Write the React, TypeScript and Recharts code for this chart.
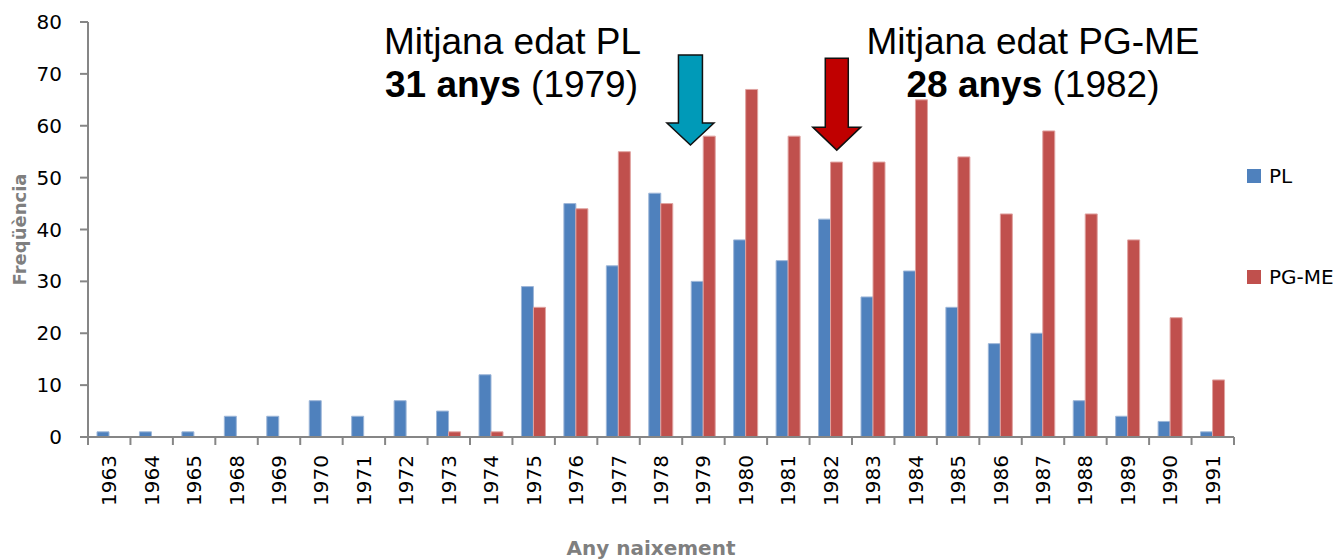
import {
  Bar,
  BarChart,
  Legend,
  ReferenceDot,
  XAxis,
  YAxis,
} from "recharts";

const years = [
  "1963", "1964", "1965", "1968", "1969", "1970", "1971", "1972", "1973",
  "1974", "1975", "1976", "1977", "1978", "1979", "1980", "1981", "1982",
  "1983", "1984", "1985", "1986", "1987", "1988", "1989", "1990", "1991",
];
const plValues = [
  1, 1, 1, 4, 4, 7, 4, 7, 5, 12, 29, 45, 33, 47, 30, 38, 34, 42, 27, 32, 25,
  18, 20, 7, 4, 3, 1,
];
const pgmeValues = [
  0, 0, 0, 0, 0, 0, 0, 0, 1, 1, 25, 44, 55, 45, 58, 67, 58, 53, 53, 65, 54,
  43, 59, 43, 38, 23, 11,
];
const yTicks = [0, 10, 20, 30, 40, 50, 60, 70, 80];

// arrows pointing at the mean birth year of each group
const plMeanYear = "1979";
const pgmeMeanYear = "1982";

const PL_COLOR = "#4F81BD";
const PGME_COLOR = "#C0504D";
const AXIS_COLOR = "#868686";
const TITLE_COLOR = "#7f7f7f";
const FONT = "'Liberation Sans', Arial, sans-serif";
const TICK_FONT = "'DejaVu Sans', sans-serif";

const data = years.map((year, i) => ({
  year,
  PL: plValues[i],
  "PG-ME": pgmeValues[i],
}));

function YearTick(props: any) {
  const { x, y, payload, index } = props;
  const off = payload.offset || 0;
  const top = y - 18;
  return (
    <g>
      <line x1={x - off} x2={x - off} y1={top} y2={top + 8} stroke={AXIS_COLOR} strokeWidth={2} />
      {index === years.length - 1 && (
        <line x1={x + off} x2={x + off} y1={top} y2={top + 8} stroke={AXIS_COLOR} strokeWidth={2} />
      )}
      <text
        x={x}
        y={y}
        transform={`rotate(-90, ${x}, ${y})`}
        textAnchor="end"
        dominantBaseline="central"
        fontSize={20}
        fontFamily={TICK_FONT}
        fill="#000"
      >
        {payload.value}
      </text>
    </g>
  );
}

function makeArrow(fill: string, dx: number, shaftW: number, headW: number, shaftLen: number, headLen: number) {
  return (props: any) => {
    const { cx, cy } = props;
    const c = cx + dx;
    const headTop = cy - headLen;
    const top = headTop - shaftLen;
    const pts = [
      [c - shaftW / 2, top],
      [c + shaftW / 2, top],
      [c + shaftW / 2, headTop],
      [c + headW / 2, headTop],
      [c, cy],
      [c - headW / 2, headTop],
      [c - shaftW / 2, headTop],
    ]
      .map((p) => p.join(","))
      .join(" ");
    return <polygon points={pts} fill={fill} stroke="#111" strokeWidth={1.5} />;
  };
}

function LegendBox() {
  const items = [
    { name: "PL", color: PL_COLOR },
    { name: "PG-ME", color: PGME_COLOR },
  ];
  return (
    <div style={{ fontFamily: TICK_FONT, fontSize: 20 }}>
      {items.map((it, i) => (
        <div
          key={it.name}
          style={{
            display: "flex",
            alignItems: "center",
            height: 22,
            marginBottom: i === 0 ? 79 : 0,
          }}
        >
          <span style={{ width: 14, height: 14, background: it.color, display: "inline-block", marginRight: 8 }} />
          <span>{it.name}</span>
        </div>
      ))}
    </div>
  );
}

export default function App() {
  return (
    <div style={{ position: "absolute", left: 0, top: 0, width: 1344, height: 559, background: "#fff" }}>
      <BarChart
        width={1344}
        height={559}
        data={data}
        margin={{ top: 22, right: 110, bottom: 0, left: 0 }}
        barGap={0}
        barSize={12}
      >
        <XAxis
          dataKey="year"
          height={122}
          interval={0}
          axisLine={{ stroke: AXIS_COLOR, strokeWidth: 2 }}
          tickLine={false}
          tickSize={8}
          tickMargin={10}
          tick={<YearTick />}
          label={{
            value: "Any naixement",
            position: "insideBottom",
            offset: 4,
            dx: -10,
            style: { fontFamily: TICK_FONT, fontSize: 20, fontWeight: "bold", fill: TITLE_COLOR },
          }}
        />
        <YAxis
          width={88}
          domain={[0, 80]}
          ticks={yTicks}
          interval={0}
          axisLine={{ stroke: AXIS_COLOR, strokeWidth: 2 }}
          tickLine={{ stroke: AXIS_COLOR, strokeWidth: 2 }}
          tickSize={8}
          tickMargin={18}
          tick={{ fill: "#000", fontSize: 20, fontFamily: TICK_FONT }}
          label={{
            value: "Freqüència",
            angle: -90,
            position: "insideLeft",
            offset: 20,
            style: { textAnchor: "middle", fontFamily: TICK_FONT, fontSize: 18, fontWeight: "bold", fill: TITLE_COLOR },
          }}
        />
        <Legend
          layout="vertical"
          align="center"
          verticalAlign="middle"
          wrapperStyle={{ left: 1247, top: 165, width: 97 }}
          content={() => <LegendBox />}
        />
        <Bar dataKey="PL" fill={PL_COLOR} stroke="#9db6d8" strokeWidth={1} isAnimationActive={false} />
        <Bar dataKey="PG-ME" fill={PGME_COLOR} stroke="#e0a3a1" strokeWidth={1} isAnimationActive={false} />
        <ReferenceDot
          x={plMeanYear}
          y={56.3}
          ifOverflow="visible"
          shape={makeArrow("#009AB8", -13, 24, 47, 68, 22)}
        />
        <ReferenceDot
          x={pgmeMeanYear}
          y={55.3}
          ifOverflow="visible"
          shape={makeArrow("#C00000", 6, 23, 48, 69, 23)}
        />
      </BarChart>
      <svg
        width={1344}
        height={559}
        style={{ position: "absolute", left: 0, top: 0, pointerEvents: "none" }}
        fontFamily={FONT}
        fontSize={37}
      >
        <text x={384} y={54}>Mitjana edat PL</text>
        <text x={385} y={97}>
          <tspan fontWeight="bold">31 anys</tspan> (1979)
        </text>
        <text x={1033} y={54} textAnchor="middle">Mitjana edat PG-ME</text>
        <text x={1033} y={97} textAnchor="middle">
          <tspan fontWeight="bold">28 anys</tspan> (1982)
        </text>
      </svg>
    </div>
  );
}
